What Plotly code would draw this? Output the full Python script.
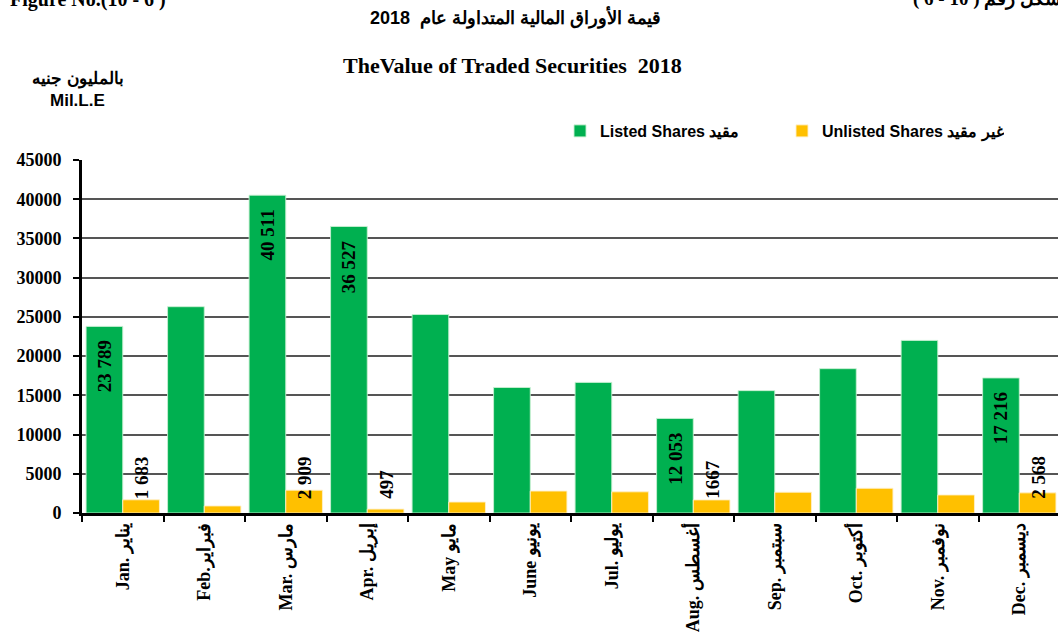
import plotly.graph_objects as go

months_en = ["Jan.", "Feb.", "Mar.", "Apr.", "May", "June", "Jul.", "Aug.", "Sep.", "Oct.", "Nov.", "Dec."]
months_ar = ["يناير", "فبراير", "مارس", "إبريل", "مايو", "يونيو", "يوليو", "أغسطس", "سبتمبر", "أكتوبر", "نوفمبر", "ديسمبر"]
month_sep = [" ", "", " ", " ", " ", " ", " ", " ", " ", " ", " ", " "]
categories = [e + s + a for e, s, a in zip(months_en, month_sep, months_ar)]

listed = [23789, 26300, 40511, 36527, 25300, 16000, 16650, 12053, 15600, 18400, 22000, 17216]
unlisted = [1683, 900, 2909, 497, 1400, 2800, 2700, 1667, 2650, 3150, 2300, 2568]

listed_labels = ["23 789", "", "40 511", "36 527", "", "", "", "12 053", "", "", "", "17 216"]
unlisted_labels = ["1 683", "", "2 909", "497", "", "", "", "1667", "", "", "", "2 568"]

GREEN = "#00B050"
YELLOW = "#FFC000"

# plot area geometry (pixels)
L, T, R, B = 82, 160, 1058, 513
W, H = 1058, 633
PW, PH = R - L, B - T


def px(x):
    return (x - L) / PW


def py(y):
    return (B - y) / PH


fig = go.Figure()
fig.add_trace(go.Bar(
    x=categories, y=listed, name="Listed Shares مقيد",
    marker=dict(color=GREEN, line=dict(color="rgba(200,240,210,0.9)", width=1)),
))
fig.add_trace(go.Bar(
    x=categories, y=unlisted, name="Unlisted Shares غير مقيد",
    marker=dict(color=YELLOW, line=dict(color="rgba(255,240,200,0.9)", width=1)),
))

label_font = dict(family="Liberation Serif", size=19, color="black", weight="bold")
annotations = []
for c, v, t in zip(categories, listed, listed_labels):
    if t:
        annotations.append(dict(x=c, y=v, xref="x", yref="y", text=t, showarrow=False,
                                textangle=-90, yanchor="top", xanchor="center",
                                xshift=-18, yshift=-12, font=label_font))
for c, v, t in zip(categories, unlisted, unlisted_labels):
    if t:
        annotations.append(dict(x=c, y=0, xref="x", yref="y", text=t, showarrow=False,
                                textangle=-90, yanchor="bottom", xanchor="center",
                                xshift=19, yshift=12, font=label_font))

sans_b = dict(family="Liberation Sans", color="black", weight="bold")
serif_b = dict(family="Liberation Serif", color="black", weight="bold")
annotations += [
    dict(x=px(8), y=py(-1), xref="paper", yref="paper", text="Figure No.(10 - 6 )",
         showarrow=False, xanchor="left", yanchor="middle", font=dict(size=20, **serif_b)),
    dict(x=px(911), y=py(-1), xref="paper", yref="paper", text="\u202Bشكل رقم ( 10 - 6 )\u202C",
         showarrow=False, xanchor="left", yanchor="middle", font=dict(size=19, **serif_b)),
    dict(x=px(515), y=py(17), xref="paper", yref="paper", text="قيمة الأوراق المالية المتداولة عام  2018",
         showarrow=False, xanchor="center", yanchor="middle", font=dict(size=18, **sans_b)),
    dict(x=px(512), y=py(65), xref="paper", yref="paper", text="TheValue of Traded Securities  2018",
         showarrow=False, xanchor="center", yanchor="middle", font=dict(size=22, **serif_b)),
    dict(x=px(78), y=py(79), xref="paper", yref="paper", text="بالمليون جنيه",
         showarrow=False, xanchor="center", yanchor="middle", font=dict(size=17, **sans_b)),
    dict(x=px(77), y=py(100), xref="paper", yref="paper", text="Mil.L.E",
         showarrow=False, xanchor="center", yanchor="middle", font=dict(size=17, **sans_b)),
]

fig.update_layout(
    width=W, height=H,
    margin=dict(l=L, r=W - R, t=T, b=H - B, pad=0, autoexpand=False),
    paper_bgcolor="white", plot_bgcolor="white",
    barmode="group", bargap=0.1, bargroupgap=0,
    showlegend=True,
    legend=dict(orientation="h", x=px(560), y=py(114), xanchor="left", yanchor="top",
                font=dict(size=16, **sans_b), entrywidth=177, entrywidthmode="pixels",
                itemwidth=30, bgcolor="rgba(0,0,0,0)", traceorder="normal"),
    annotations=annotations,
    font=dict(family="Liberation Serif", color="black"),
)
fig.update_xaxes(
    range=[-0.5, 11.475], showline=True, linecolor="black", linewidth=3,
    ticks="outside", tickson="boundaries", ticklen=6, tickwidth=2, tickcolor="black",
    tickangle=-90, tickfont=dict(size=18, **serif_b), showgrid=False,
)
fig.update_yaxes(
    range=[0, 45000], dtick=5000, tickformat="d", showline=True, linecolor="black", linewidth=3,
    ticks="outside", ticklen=6, tickwidth=2, tickcolor="black",
    showgrid=True, gridcolor="#555555", gridwidth=1.5, zeroline=False,
    tickfont=dict(size=18, **serif_b), ticklabelstandoff=8,
)

fig.write_html("out.html", config={"displayModeBar": False},
               post_script="document.body.style.margin='0px';document.body.style.overflow='hidden';")
